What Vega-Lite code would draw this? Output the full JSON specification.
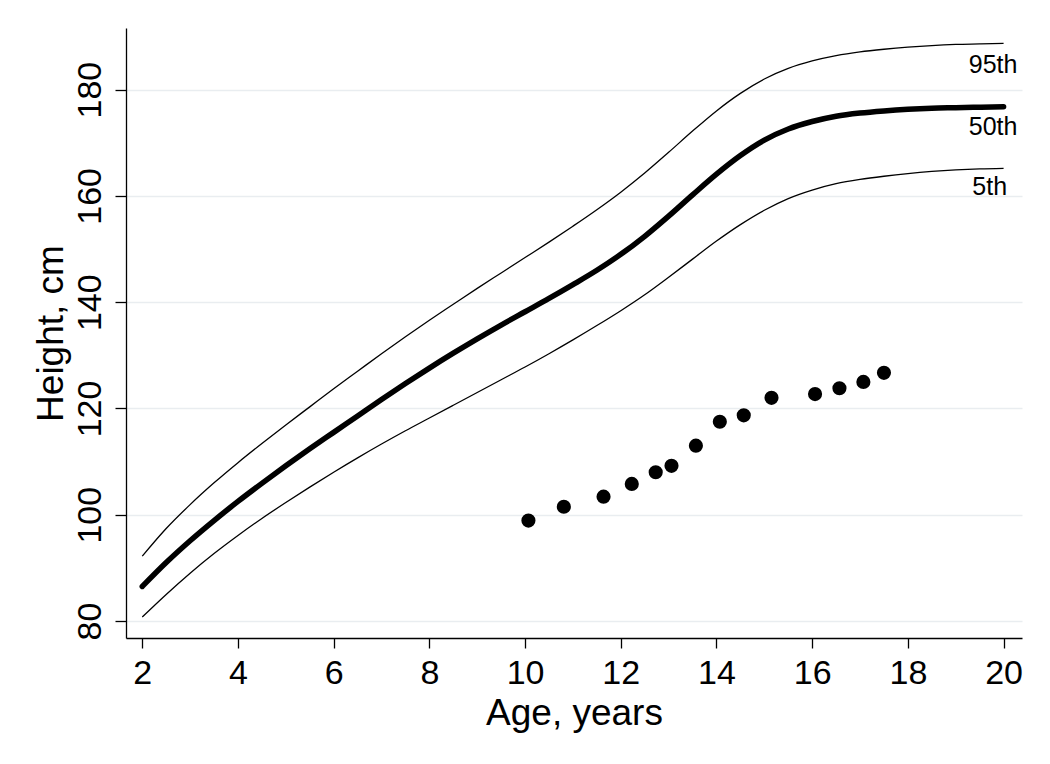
{
  "$schema": "https://vega.github.io/schema/vega-lite/v6.json",
  "autosize": {"type": "none"},
  "width": 896,
  "height": 610,
  "padding": {"left": 126, "top": 28, "right": 28, "bottom": 126},
  "background": "white",
  "config": {
    "font": "Liberation Sans",
    "view": {"stroke": null},
    "axis": {
      "domainColor": "#000000",
      "domainWidth": 1.3,
      "tickColor": "#000000",
      "tickWidth": 1.3,
      "labelColor": "#000000",
      "titleColor": "#000000",
      "labelFont": "Liberation Sans",
      "titleFont": "Liberation Sans",
      "titleFontWeight": "normal",
      "labelOverlap": false,
      "labelFlush": false
    }
  },
  "datasets": {
    "curves": [
      {"age": 2, "height": 92.2, "pct": "95th"},
      {"age": 2.5, "height": 97.4, "pct": "95th"},
      {"age": 3, "height": 101.9, "pct": "95th"},
      {"age": 3.5, "height": 106.0, "pct": "95th"},
      {"age": 4, "height": 109.8, "pct": "95th"},
      {"age": 4.5, "height": 113.4, "pct": "95th"},
      {"age": 5, "height": 116.9, "pct": "95th"},
      {"age": 5.5, "height": 120.3, "pct": "95th"},
      {"age": 6, "height": 123.7, "pct": "95th"},
      {"age": 6.5, "height": 127.0, "pct": "95th"},
      {"age": 7, "height": 130.3, "pct": "95th"},
      {"age": 7.5, "height": 133.5, "pct": "95th"},
      {"age": 8, "height": 136.6, "pct": "95th"},
      {"age": 8.5, "height": 139.6, "pct": "95th"},
      {"age": 9, "height": 142.6, "pct": "95th"},
      {"age": 9.5, "height": 145.5, "pct": "95th"},
      {"age": 10, "height": 148.4, "pct": "95th"},
      {"age": 10.5, "height": 151.3, "pct": "95th"},
      {"age": 11, "height": 154.3, "pct": "95th"},
      {"age": 11.5, "height": 157.4, "pct": "95th"},
      {"age": 12, "height": 160.7, "pct": "95th"},
      {"age": 12.5, "height": 164.3, "pct": "95th"},
      {"age": 13, "height": 168.2, "pct": "95th"},
      {"age": 13.5, "height": 172.2, "pct": "95th"},
      {"age": 14, "height": 176.0, "pct": "95th"},
      {"age": 14.5, "height": 179.3, "pct": "95th"},
      {"age": 15, "height": 182.0, "pct": "95th"},
      {"age": 15.5, "height": 184.0, "pct": "95th"},
      {"age": 16, "height": 185.4, "pct": "95th"},
      {"age": 16.5, "height": 186.4, "pct": "95th"},
      {"age": 17, "height": 187.1, "pct": "95th"},
      {"age": 17.5, "height": 187.6, "pct": "95th"},
      {"age": 18, "height": 188.0, "pct": "95th"},
      {"age": 18.5, "height": 188.3, "pct": "95th"},
      {"age": 19, "height": 188.5, "pct": "95th"},
      {"age": 19.5, "height": 188.6, "pct": "95th"},
      {"age": 20, "height": 188.7, "pct": "95th"},
      {"age": 2, "height": 86.5, "pct": "50th"},
      {"age": 2.5, "height": 91.0, "pct": "50th"},
      {"age": 3, "height": 95.1, "pct": "50th"},
      {"age": 3.5, "height": 98.9, "pct": "50th"},
      {"age": 4, "height": 102.5, "pct": "50th"},
      {"age": 4.5, "height": 105.9, "pct": "50th"},
      {"age": 5, "height": 109.2, "pct": "50th"},
      {"age": 5.5, "height": 112.4, "pct": "50th"},
      {"age": 6, "height": 115.5, "pct": "50th"},
      {"age": 6.5, "height": 118.6, "pct": "50th"},
      {"age": 7, "height": 121.7, "pct": "50th"},
      {"age": 7.5, "height": 124.7, "pct": "50th"},
      {"age": 8, "height": 127.6, "pct": "50th"},
      {"age": 8.5, "height": 130.4, "pct": "50th"},
      {"age": 9, "height": 133.1, "pct": "50th"},
      {"age": 9.5, "height": 135.7, "pct": "50th"},
      {"age": 10, "height": 138.2, "pct": "50th"},
      {"age": 10.5, "height": 140.7, "pct": "50th"},
      {"age": 11, "height": 143.3, "pct": "50th"},
      {"age": 11.5, "height": 146.0, "pct": "50th"},
      {"age": 12, "height": 149.0, "pct": "50th"},
      {"age": 12.5, "height": 152.4, "pct": "50th"},
      {"age": 13, "height": 156.2, "pct": "50th"},
      {"age": 13.5, "height": 160.2, "pct": "50th"},
      {"age": 14, "height": 164.1, "pct": "50th"},
      {"age": 14.5, "height": 167.6, "pct": "50th"},
      {"age": 15, "height": 170.5, "pct": "50th"},
      {"age": 15.5, "height": 172.6, "pct": "50th"},
      {"age": 16, "height": 174.0, "pct": "50th"},
      {"age": 16.5, "height": 175.0, "pct": "50th"},
      {"age": 17, "height": 175.6, "pct": "50th"},
      {"age": 17.5, "height": 176.0, "pct": "50th"},
      {"age": 18, "height": 176.3, "pct": "50th"},
      {"age": 18.5, "height": 176.5, "pct": "50th"},
      {"age": 19, "height": 176.6, "pct": "50th"},
      {"age": 19.5, "height": 176.7, "pct": "50th"},
      {"age": 20, "height": 176.8, "pct": "50th"},
      {"age": 2, "height": 80.75, "pct": "5th"},
      {"age": 2.5, "height": 85.0, "pct": "5th"},
      {"age": 3, "height": 89.0, "pct": "5th"},
      {"age": 3.5, "height": 92.7, "pct": "5th"},
      {"age": 4, "height": 96.1, "pct": "5th"},
      {"age": 4.5, "height": 99.3, "pct": "5th"},
      {"age": 5, "height": 102.3, "pct": "5th"},
      {"age": 5.5, "height": 105.2, "pct": "5th"},
      {"age": 6, "height": 108.0, "pct": "5th"},
      {"age": 6.5, "height": 110.7, "pct": "5th"},
      {"age": 7, "height": 113.3, "pct": "5th"},
      {"age": 7.5, "height": 115.8, "pct": "5th"},
      {"age": 8, "height": 118.2, "pct": "5th"},
      {"age": 8.5, "height": 120.6, "pct": "5th"},
      {"age": 9, "height": 123.0, "pct": "5th"},
      {"age": 9.5, "height": 125.4, "pct": "5th"},
      {"age": 10, "height": 127.8, "pct": "5th"},
      {"age": 10.5, "height": 130.3, "pct": "5th"},
      {"age": 11, "height": 132.9, "pct": "5th"},
      {"age": 11.5, "height": 135.6, "pct": "5th"},
      {"age": 12, "height": 138.4, "pct": "5th"},
      {"age": 12.5, "height": 141.4, "pct": "5th"},
      {"age": 13, "height": 144.7, "pct": "5th"},
      {"age": 13.5, "height": 148.1, "pct": "5th"},
      {"age": 14, "height": 151.5, "pct": "5th"},
      {"age": 14.5, "height": 154.6, "pct": "5th"},
      {"age": 15, "height": 157.3, "pct": "5th"},
      {"age": 15.5, "height": 159.5, "pct": "5th"},
      {"age": 16, "height": 161.1, "pct": "5th"},
      {"age": 16.5, "height": 162.3, "pct": "5th"},
      {"age": 17, "height": 163.1, "pct": "5th"},
      {"age": 17.5, "height": 163.7, "pct": "5th"},
      {"age": 18, "height": 164.2, "pct": "5th"},
      {"age": 18.5, "height": 164.6, "pct": "5th"},
      {"age": 19, "height": 164.9, "pct": "5th"},
      {"age": 19.5, "height": 165.1, "pct": "5th"},
      {"age": 20, "height": 165.2, "pct": "5th"}
    ],
    "patient": [
      {"age": 10.07, "height": 98.9},
      {"age": 10.81, "height": 101.5},
      {"age": 11.64, "height": 103.4},
      {"age": 12.23, "height": 105.8},
      {"age": 12.73, "height": 108.0},
      {"age": 13.06, "height": 109.2},
      {"age": 13.57, "height": 113.0},
      {"age": 14.07, "height": 117.5},
      {"age": 14.57, "height": 118.7},
      {"age": 15.15, "height": 122.0},
      {"age": 16.06, "height": 122.7},
      {"age": 16.57, "height": 123.8},
      {"age": 17.07, "height": 125.0},
      {"age": 17.5, "height": 126.7}
    ],
    "labels": [
      {"age": 19.78, "height": 183.1, "label": "95th"},
      {"age": 19.78, "height": 171.5, "label": "50th"},
      {"age": 19.71, "height": 160.2, "label": "5th"}
    ]
  },
  "encoding": {
    "x": {
      "field": "age",
      "type": "quantitative",
      "scale": {"domain": [1.66, 20.385], "nice": false, "zero": false},
      "axis": {
        "title": "Age, years",
        "values": [2, 4, 6, 8, 10, 12, 14, 16, 18, 20],
        "grid": false,
        "tickSize": 10,
        "labelFontSize": 34,
        "labelPadding": 8,
        "titleFontSize": 37,
        "titleY": 86,
        "titleBaseline": "alphabetic"
      }
    },
    "y": {
      "field": "height",
      "type": "quantitative",
      "scale": {"domain": [76.8, 191.6], "nice": false, "zero": false},
      "axis": {
        "title": "Height, cm",
        "values": [80, 100, 120, 140, 160, 180],
        "grid": true,
        "gridColor": "#e9edf0",
        "gridWidth": 1.5,
        "tickSize": 11,
        "labelFontSize": 34,
        "labelAngle": -90,
        "labelAlign": "center",
        "labelBaseline": "alphabetic",
        "labelPadding": 15,
        "titleFontSize": 37,
        "titleAngle": -90,
        "titleAlign": "center",
        "titleBaseline": "alphabetic",
        "titleX": -64,
        "titleY": 305
      }
    }
  },
  "layer": [
    {
      "data": {"name": "curves"},
      "transform": [{"filter": "datum.pct !== '50th'"}],
      "mark": {"type": "line", "interpolate": "monotone", "color": "#000000", "strokeWidth": 1.3},
      "encoding": {
        "detail": {"field": "pct", "type": "nominal"}
      }
    },
    {
      "data": {"name": "curves"},
      "transform": [{"filter": "datum.pct === '50th'"}],
      "mark": {"type": "line", "interpolate": "monotone", "color": "#000000", "strokeWidth": 5.5, "strokeCap": "round"},
      "encoding": {
        "detail": {"field": "pct", "type": "nominal"}
      }
    },
    {
      "data": {"name": "patient"},
      "mark": {"type": "circle", "size": 200, "color": "#000000", "opacity": 1}
    },
    {
      "data": {"name": "labels"},
      "mark": {"type": "text", "fontSize": 25, "align": "center", "baseline": "alphabetic", "color": "#000000", "font": "Liberation Sans"},
      "encoding": {"text": {"field": "label", "type": "nominal"}}
    }
  ]
}
